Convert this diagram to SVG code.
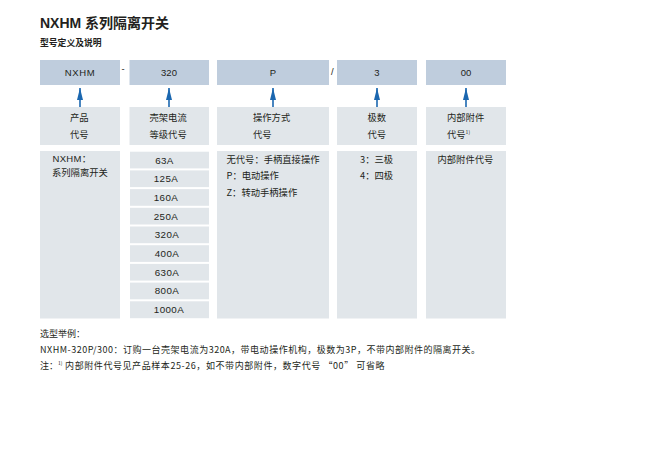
<svg xmlns="http://www.w3.org/2000/svg" width="645" height="470" viewBox="0 0 645 470">
<style>
text{font-family:"Liberation Sans","Noto Sans CJK SC",sans-serif;fill:#231f20;}
.t{font-size:9.5px;}
.a{font-size:9.8px;letter-spacing:0.4px;}
.c{text-anchor:middle;}
.hd{fill:#bfcddd;}
.lb{fill:#e1e6ea;}
.cn{font-family:"Noto Sans CJK SC",sans-serif;font-size:9.3px;}
.ar{stroke:#1b67b0;stroke-width:1.6;fill:none;}
</style>
<defs>
<marker id="ah" viewBox="0 0 12 6" refX="12" refY="3" markerWidth="12" markerHeight="6" markerUnits="userSpaceOnUse" orient="auto">
<path d="M0,0 L12,3 L0,6 z" fill="#1b67b0"/>
</marker>
</defs>
<rect width="645" height="470" fill="#ffffff"/>
<text x="40" y="28" style="font-size:14px;font-weight:bold">NXHM 系列隔离开关</text>
<text x="40" y="46" style="font-size:8.8px;font-weight:bold;font-family:'Noto Sans CJK SC',sans-serif">型号定义及说明</text>

<g id="hdr-nxhm"><rect class="hd" x="40" y="60" width="80" height="25"/><text class="t c" x="80" y="75.5" style="letter-spacing:0.6px">NXHM</text></g>
<g id="hdr-320"><rect class="hd" x="129.5" y="60" width="79.5" height="25"/><text class="t c" x="169" y="75.5">320</text></g>
<g id="hdr-p"><rect class="hd" x="217" y="60" width="112" height="25"/><text class="t c" x="273" y="75.5">P</text></g>
<g id="hdr-3"><rect class="hd" x="337" y="60" width="80" height="25"/><text class="t c" x="377" y="75.5">3</text></g>
<g id="hdr-00"><rect class="hd" x="426" y="60" width="80" height="25"/><text class="t c" x="466" y="75.5">00</text></g>
<text class="t" x="121.5" y="72">-</text>
<text class="t" x="331" y="75">/</text>

<g id="connectors">
<line class="ar" x1="80" y1="107" x2="80" y2="88" marker-end="url(#ah)"/>
<line class="ar" x1="169" y1="107" x2="169" y2="88" marker-end="url(#ah)"/>
<line class="ar" x1="273" y1="107" x2="273" y2="88" marker-end="url(#ah)"/>
<line class="ar" x1="377" y1="107" x2="377" y2="88" marker-end="url(#ah)"/>
<line class="ar" x1="466" y1="107" x2="466" y2="88" marker-end="url(#ah)"/>
</g>

<g id="lab-1"><rect class="lb" x="40" y="107" width="80" height="38"/><text class="cn" x="70" y="121">产品</text><text class="cn" x="70" y="138">代号</text></g>
<g id="lab-2"><rect class="lb" x="129.5" y="107" width="79.5" height="38"/><text class="cn" x="149.5" y="121">壳架电流</text><text class="cn" x="149.5" y="138">等级代号</text></g>
<g id="lab-3"><rect class="lb" x="217" y="107" width="112" height="38"/><text class="cn" x="253" y="121">操作方式</text><text class="cn" x="253" y="138">代号</text></g>
<g id="lab-4"><rect class="lb" x="337" y="107" width="80" height="38"/><text class="cn" x="367.5" y="121">极数</text><text class="cn" x="367.5" y="138">代号</text></g>
<g id="lab-5"><rect class="lb" x="426" y="107" width="80" height="38"/><text class="cn" x="447" y="121">内部附件</text><text class="cn" x="447" y="138">代号<tspan style="font-size:5px" dy="-4">1)</tspan></text></g>

<g id="desc-1"><rect class="lb" x="40" y="151" width="80" height="167.5"/><text class="t" x="52.5" y="162" style="letter-spacing:0.3px">NXHM：</text><text class="cn" x="52" y="176">系列隔离开关</text></g>
<g id="desc-2">
<rect class="lb" x="130" y="151.7" width="79" height="16.7"/><text class="a c" x="164.5" y="163.5">63A</text>
<rect class="lb" x="130" y="170.4" width="79" height="16.7"/><text class="a c" x="166" y="182.2">125A</text>
<rect class="lb" x="130" y="189.1" width="79" height="16.7"/><text class="a c" x="166" y="200.9">160A</text>
<rect class="lb" x="130" y="207.8" width="79" height="16.7"/><text class="a c" x="166" y="219.6">250A</text>
<rect class="lb" x="130" y="226.5" width="79" height="16.7"/><text class="a c" x="167" y="238.3">320A</text>
<rect class="lb" x="130" y="245.2" width="79" height="16.7"/><text class="a c" x="167" y="257">400A</text>
<rect class="lb" x="130" y="263.9" width="79" height="16.7"/><text class="a c" x="167" y="275.7">630A</text>
<rect class="lb" x="130" y="282.6" width="79" height="16.7"/><text class="a c" x="167" y="294.4">800A</text>
<rect class="lb" x="130" y="301.3" width="79" height="16.9"/><text class="a c" x="169" y="313.2">1000A</text>
</g>
<g id="desc-3"><rect class="lb" x="217" y="151" width="112" height="167.5"/>
<text class="cn" x="226.5" y="163">无代号：手柄直接操作</text>
<text class="cn" x="226.5" y="179">P：电动操作</text>
<text class="cn" x="226.5" y="195.5">Z：转动手柄操作</text></g>
<g id="desc-4"><rect class="lb" x="337" y="151" width="80" height="167.5"/>
<text class="cn" x="360" y="163">3：三极</text>
<text class="cn" x="360" y="179">4：四极</text></g>
<g id="desc-5"><rect class="lb" x="426" y="151" width="80" height="167.5"/>
<text class="cn" x="437.5" y="163">内部附件代号</text></g>

<text class="cn" x="40" y="337" style="font-size:9px">选型举例：</text>
<text class="cn" x="40" y="352.5" style="font-size:9px" textLength="440" lengthAdjust="spacing">NXHM-320P/300：订购一台壳架电流为320A，带电动操作机构，极数为3P，不带内部附件的隔离开关。</text>
<text class="cn" x="40" y="369" style="font-size:9px">注：<tspan style="font-size:5px" dy="-4">1)</tspan><tspan dy="4" textLength="322" lengthAdjust="spacing"> 内部附件代号见产品样本25-26，如不带内部附件，数字代号 “00” 可省略</tspan></text>
</svg>
